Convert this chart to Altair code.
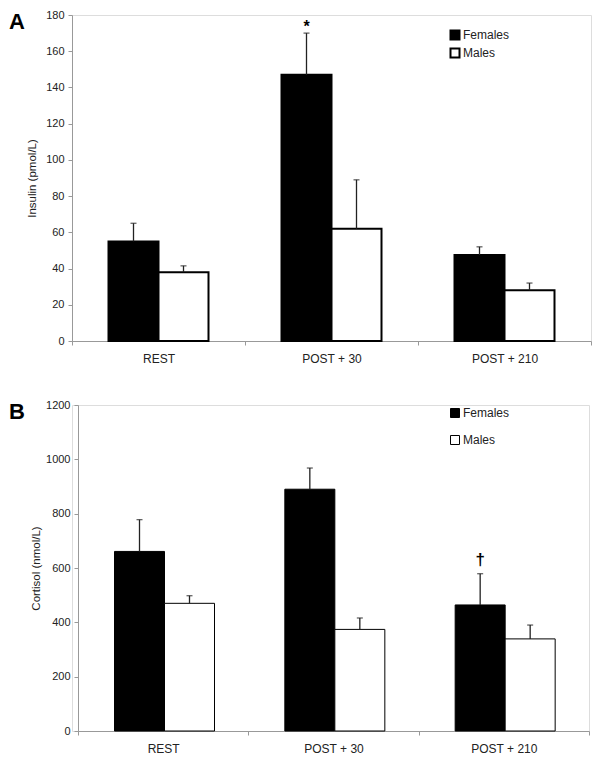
import altair as alt
import pandas as pd

categories = ["REST", "POST + 30", "POST + 210"]
groups = ["Females", "Males"]

insulin_females = [55, 147, 47.5]
insulin_males = [38, 62, 28]
insulin_females_sem = [10, 23, 4.5]
insulin_males_sem = [3.5, 27, 4]

cortisol_females = [661, 890, 464]
cortisol_males = [470, 374, 339]
cortisol_females_sem = [117, 78, 115]
cortisol_males_sem = [28, 42, 51]

FONT = "Liberation Sans"


def make_df(f, m, fs, ms):
    rows = []
    for i, c in enumerate(categories):
        rows.append({"cat": c, "sex": "Females", "value": f[i], "sem": fs[i]})
        rows.append({"cat": c, "sex": "Males", "value": m[i], "sem": ms[i]})
    df = pd.DataFrame(rows)
    df["upper"] = df["value"] + df["sem"]
    return df


def panel(df, ytitle, ymax, ystep, width, inset, letter, mark_cat, mark_sym,
          mark_size, mark_dy, bar_sw, legend_x, legend_y, row_pad, title_pad):
    xaxis = alt.Axis(title=None, tickBand="extent", labelAngle=0,
                     domainColor="#999", tickColor="#999", tickSize=4,
                     labelFontSize=12, labelColor="#222", labelPadding=8,
                     labelFont=FONT)
    xscale = alt.Scale(paddingInner=0, paddingOuter=0, range=[inset, width])
    x = alt.X("cat:N", sort=categories, scale=xscale, axis=xaxis)
    xo = alt.XOffset("sex:N", sort=groups,
                     scale=alt.Scale(paddingInner=0, paddingOuter=0.73))
    yscale = alt.Scale(domain=[0, ymax], nice=False)
    yaxis = alt.Axis(title=ytitle, values=list(range(0, ymax + 1, ystep)),
                     format="d", labelOverlap=False, offset=-inset,
                     grid=False, domainColor="#999", tickColor="#999",
                     tickSize=4, labelFontSize=11, labelColor="#222",
                     labelPadding=4, labelFont=FONT,
                     titleFont=FONT, titleFontSize=11.5,
                     titleFontWeight="normal", titleColor="#222",
                     titlePadding=title_pad)
    base = alt.Chart(df)
    bars = base.mark_bar(stroke="black", strokeWidth=bar_sw).encode(
        x=x, xOffset=xo, y=alt.Y("value:Q", scale=yscale, axis=yaxis),
        color=alt.Color("sex:N", sort=groups,
                        scale=alt.Scale(domain=groups, range=["black", "white"]),
                        legend=alt.Legend(title=None, orient="none",
                                          legendX=legend_x, legendY=legend_y,
                                          symbolType="square", symbolSize=81,
                                          symbolStrokeColor="black",
                                          symbolStrokeWidth=bar_sw,
                                          labelFontSize=12, labelFont=FONT,
                                          labelColor="#222", labelOffset=2,
                                          rowPadding=row_pad)),
    )
    rules = base.mark_rule(color="#222", strokeWidth=1.3).encode(
        x=x, xOffset=xo, y=alt.Y("value:Q", scale=yscale, axis=yaxis), y2="upper:Q")
    caps = base.mark_tick(color="#222", thickness=1.3, size=6).encode(
        x=x, xOffset=xo, y=alt.Y("upper:Q", scale=yscale, axis=yaxis))
    ann = base.transform_filter(
        (alt.datum.cat == mark_cat) & (alt.datum.sex == "Females")
    ).mark_text(text=mark_sym, fontSize=mark_size, fontWeight="bold",
                font=FONT, color="black", dy=mark_dy, baseline="middle").encode(
        x=x, xOffset=xo, y=alt.Y("upper:Q", scale=yscale, axis=yaxis))
    lab = alt.Chart(pd.DataFrame({"t": [letter]})).mark_text(
        fontSize=22, fontWeight="bold", font=FONT, color="black",
        align="left", baseline="alphabetic").encode(
        x=alt.value(-63), y=alt.value(14), text="t:N")
    return alt.layer(bars, rules, caps, ann, lab).properties(width=width, height=326)


dfA = make_df(insulin_females, insulin_males, insulin_females_sem, insulin_males_sem)
dfB = make_df(cortisol_females, cortisol_males, cortisol_females_sem, cortisol_males_sem)

A = panel(dfA, "Insulin (pmol/L)", 180, 20, 519, 0, "A", "POST + 30", "*", 16, -6,
          2, 377, 14, 0, 8)
B = panel(dfB, "Cortisol (nmol/L)", 1200, 200, 517, 6, "B", "POST + 210", "†", 17, -14,
          1, 377, 2, 13, 4)

chart = alt.vconcat(A, B, spacing=33).resolve_scale(
    color="independent").properties(
    padding={"left": 0, "top": 0, "right": 0, "bottom": 0}
).configure_view(stroke=None).configure(font=FONT)

chart.save("out.html", embed_options={"renderer": "svg", "actions": False})
